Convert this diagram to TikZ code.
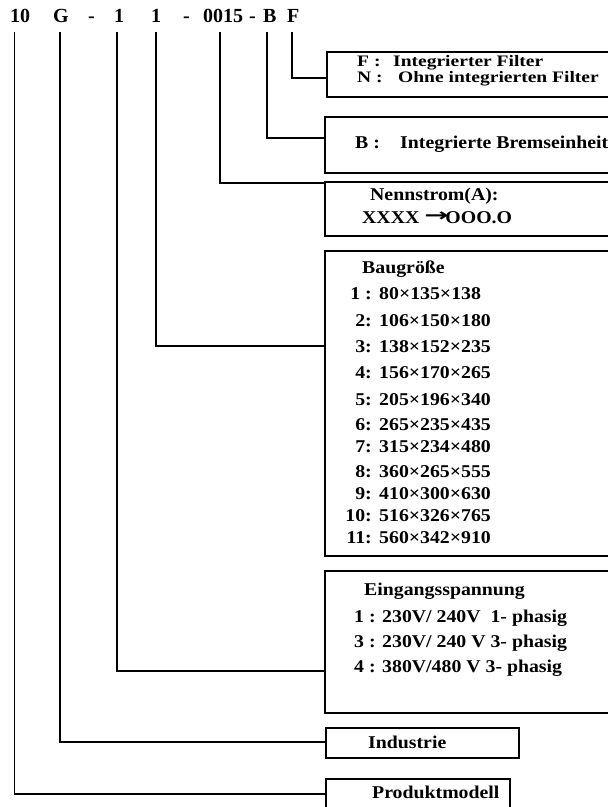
\documentclass[tikz,border=0pt]{standalone}
\usepackage{fontspec}
\setmainfont{Liberation Serif}
\newfontfamily\boxfont{Liberation Serif}[FakeStretch=1.1]
\newfontfamily\engfont{Liberation Serif}[FakeStretch=1.22]
\newfontfamily\pfeil{DejaVu Sans}
\usepackage{tikz}
\usetikzlibrary{positioning}
\tikzset{
  kasten/.style={draw, line width=1.8pt, anchor=north west, inner sep=0pt},
  leitung/.style={line width=1.3pt},
  kopf/.style={font=\fontsize{20}{22}\selectfont\bfseries, anchor=base west, inner sep=0pt},
  eintrag/.style={font=\fontsize{18}{20}\selectfont\boxfont\bfseries, anchor=base west, inner sep=0pt},
  eng/.style={font=\fontsize{16}{16}\selectfont\engfont\bfseries},
}
\newcommand{\kasten}[5]{%
  \node[kasten, minimum width={#4-#2}, minimum height={#5-#3}] (#1) at (#2,#3) {};%
}

\begin{document}
\begin{tikzpicture}[x=1pt, y=-1pt]
        \useasboundingbox (0,0) rectangle (608,807);
        \clip (0,0) rectangle (608,807);
        % Typenschluessel
        \node[kopf] (h10) at (10,22) {10};
        \node[kopf] (hG) at (53,22) {G};
        \node[kopf] (hs1) at (88,22) {-};
        \node[kopf] (hV) at (114,22) {1};
        \node[kopf] (hBG) at (151,22) {1};
        \node[kopf] (hs2) at (183,22) {-};
        \node[kopf] (hI) at (203,22) {0015};
        \node[kopf] (hs3) at (249,22) {-};
        \node[kopf] (hB) at (263,22) {B};
        \node[kopf] (hF) at (287,22) {F};
        \foreach \n/\x in {10/14.7, G/60, V/117, BG/156, I/220, B/267, F/292}
          \coordinate (t\n) at (\x,32);
        \kasten{filt}{326}{51}{640}{96}
        \kasten{brems}{324}{116}{640}{172}
        \kasten{nenn}{324}{181}{640}{235}
        \kasten{bau}{324}{250}{640}{555}
        \kasten{eing}{324}{570}{640}{712}
        \kasten{ind}{325}{727}{518}{757}
        \kasten{prod}{325}{778}{509}{830}
        \draw[leitung] (tF) |- (filt.west |- 0,78);
        \draw[leitung] (tB) |- (brems.west |- 0,138);
        \draw[leitung] (tI) |- (nenn.west |- 0,183);
        \draw[leitung] (tBG) |- (bau.west |- 0,346);
        \draw[leitung] (tV) |- (eing.west |- 0,671);
        \draw[leitung] (tG) |- (ind.west |- 0,742);
        \draw[leitung] (t10) |- (prod.west |- 0,794);
        % Filter, Bremse, Strom
        \node[eintrag, eng] (kF) at (357,66) {F :};
        \node[eintrag, eng] (tF1) at (393,66) {Integrierter Filter};
        \node[eintrag, eng] (kN) at (357,82.5) {N :};
        \node[eintrag, eng] (tN1) at (398,82.5) {Ohne integrierten Filter};
        \node[eintrag] (kB) at (355,148) {B :};
        \node[eintrag] (tB1) at (400,148) {Integrierte Bremseinheit};
        \node[eintrag] (nenn1) at (370,200) {Nennstrom(A):};
        \node[eintrag] (nenn2) at (362,223) {XXXX \raisebox{2pt}{\scalebox{1.6}[1]{\pfeil →}}\kern-3pt OOO.O};
        % Baugroesse
        \node[eintrag] (bau0) at (362,273) {Baugröße};
        \foreach \nr/\mass/\y in {1 :/80×135×138/299, 2:/106×150×180/326, 3:/138×152×235/352,
            4:/156×170×265/378, 5:/205×196×340/405, 6:/265×235×435/430, 7:/315×234×480/452,
            8:/360×265×555/477, 9:/410×300×630/499, 10:/516×326×765/521, 11:/560×342×910/543} {
          \node[eintrag, anchor=base east] (bn\y) at (372,\y) {\nr};
          \node[eintrag] (bm\y) at (379,\y) {\mass};
        }
        % Spannung
        \node[eintrag] (eing0) at (364,595) {Eingangsspannung};
        \node[eintrag] (eing1) at (354,622) {1 : 230V/ 240V\ \ 1- phasig};
        \node[eintrag] (eing3) at (354,647) {3 : 230V/ 240 V 3- phasig};
        \node[eintrag] (eing4) at (354,672) {4 : 380V/480 V 3- phasig};
        \node[eintrag] (ind0) at (368,748) {Industrie};
        \node[eintrag] (prod0) at (372,798) {Produktmodell};
      \end{tikzpicture}
\end{document}
